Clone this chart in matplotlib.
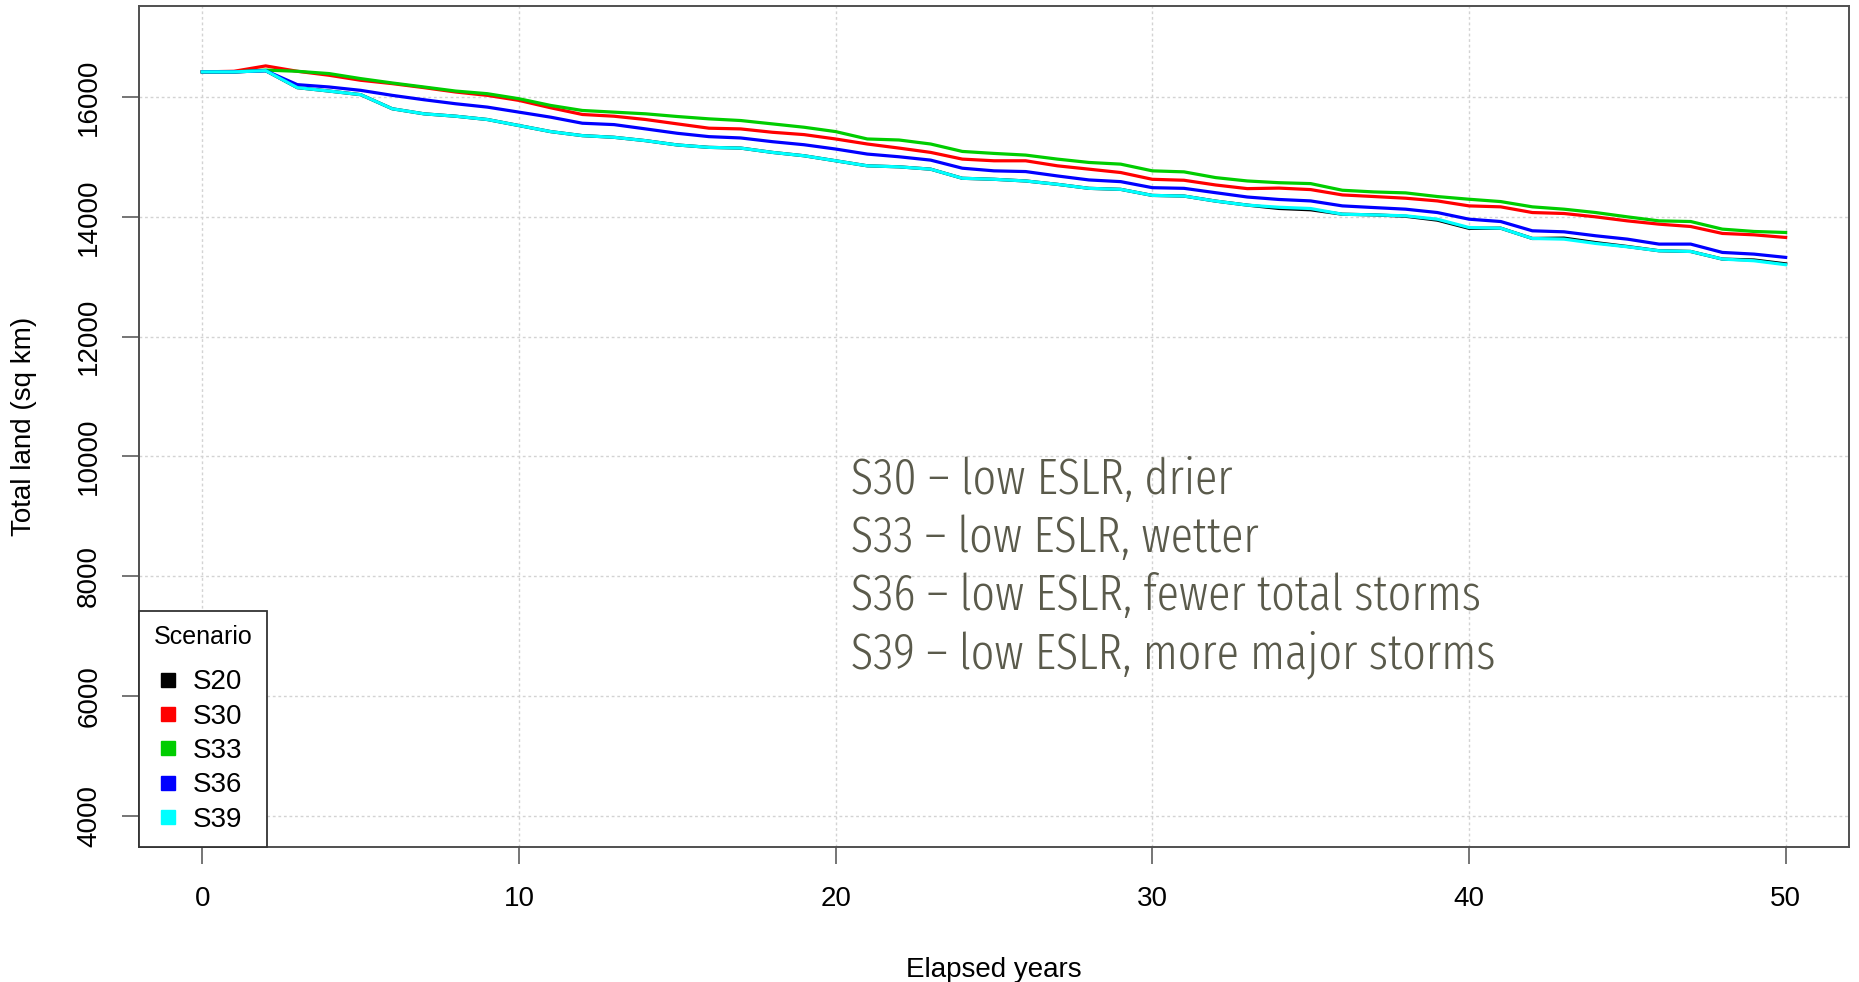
import numpy as np
import matplotlib
matplotlib.use('Agg')
import matplotlib.pyplot as plt
from matplotlib.lines import Line2D

# Values (sq km, one per elapsed year)
years = np.arange(0, 51)

s30 = [16420, 16430, 16520, 16430, 16364, 16280, 16224, 16157, 16084, 16028,
       15944, 15821, 15709, 15680, 15625, 15552, 15480, 15468, 15412, 15373,
       15300, 15216, 15148, 15076, 14964, 14936, 14936, 14852, 14796, 14740,
       14627, 14611, 14532, 14471, 14480, 14455, 14366, 14339, 14311, 14266,
       14183, 14167, 14072, 14056, 14000, 13933, 13878, 13839, 13723, 13700,
       13656]
s33 = [16420, 16420, 16450, 16430, 16392, 16308, 16235, 16168, 16100, 16056,
       15972, 15860, 15776, 15748, 15720, 15675, 15636, 15608, 15552, 15496,
       15423, 15300, 15283, 15216, 15092, 15059, 15031, 14964, 14908, 14880,
       14768, 14751, 14655, 14599, 14570, 14555, 14444, 14416, 14400, 14339,
       14294, 14255, 14167, 14128, 14072, 14000, 13933, 13922, 13795, 13756,
       13739]
s36 = [16420, 16420, 16440, 16207, 16168, 16112, 16028, 15955, 15888, 15832,
       15748, 15664, 15563, 15540, 15468, 15395, 15339, 15317, 15255, 15204,
       15132, 15048, 15003, 14947, 14812, 14768, 14756, 14683, 14616, 14588,
       14487, 14476, 14403, 14331, 14290, 14266, 14183, 14155, 14128, 14072,
       13961, 13922, 13767, 13750, 13684, 13628, 13545, 13545, 13406, 13378,
       13323]
s39 = [16420, 16420, 16440, 16157, 16100, 16040, 15804, 15720, 15680, 15625,
       15524, 15423, 15356, 15328, 15272, 15200, 15160, 15148, 15076, 15020,
       14936, 14852, 14835, 14796, 14644, 14627, 14599, 14543, 14476, 14459,
       14358, 14347, 14263, 14196, 14160, 14139, 14044, 14033, 14017, 13961,
       13822, 13811, 13639, 13628, 13556, 13500, 13434, 13422, 13295, 13267,
       13201]
s20 = [16420, 16420, 16440, 16157, 16100, 16040, 15804, 15720, 15680, 15625,
       15524, 15423, 15356, 15328, 15272, 15200, 15160, 15148, 15076, 15020,
       14936, 14852, 14835, 14796, 14644, 14627, 14599, 14543, 14476, 14459,
       14358, 14347, 14263, 14196, 14140, 14118, 14044, 14033, 14010, 13945,
       13808, 13811, 13639, 13645, 13570, 13505, 13434, 13422, 13295, 13280,
       13215]

scenarios = ['S20', 'S30', 'S33', 'S36', 'S39']
series = [s20, s30, s33, s36, s39]
colors = ['black', 'red', '#00cd00', 'blue', 'cyan']

notes = ['S30 \u2013 low ESLR, drier',
         'S33 \u2013 low ESLR, wetter',
         'S36 \u2013 low ESLR, fewer total storms',
         'S39 \u2013 low ESLR, more major storms']

plt.rcParams['font.family'] = ['Liberation Sans', 'DejaVu Sans']
frame_col = '#505050'

fig = plt.figure(figsize=(18.59, 9.82), dpi=100)
ax = fig.add_axes([139 / 1859, 135 / 982, 1710 / 1859, 841 / 982])

for name, vals, col in zip(scenarios, series, colors):
    ax.plot(years, vals, color=col, lw=2.3, solid_joinstyle='miter')

ax.set_xlim(-2, 52)
ax.set_ylim(3480, 17520)
ax.set_xticks(np.arange(0, 51, 10))
ax.set_yticks(np.arange(4000, 16001, 2000))
ax.grid(True, color='#d3d3d3', linestyle=(0, (2, 2)), lw=1.0)
ax.set_axisbelow(True)

for sp in ax.spines.values():
    sp.set_color(frame_col)
    sp.set_linewidth(1.4)
ax.tick_params(length=12, width=1.1, color=frame_col, labelsize=20)
ax.tick_params(axis='x', pad=16)
ax.tick_params(axis='y', pad=14.5)
for lab in ax.get_yticklabels():
    lab.set_rotation(90)
    lab.set_va('center')

ax.set_xlabel('Elapsed years', fontsize=20)
ax.xaxis.set_label_coords(0.5, -0.1457)
ax.xaxis.label.set_va('center')
ax.set_ylabel('Total land (sq km)', fontsize=20)
ax.yaxis.set_label_coords(-0.067, 0.5)
ax.yaxis.label.set_va('center')

handles = [Line2D([], [], marker='s', ls='none', color=c, markersize=9.4)
           for c in colors]
leg = ax.legend(handles, scenarios, title='Scenario', loc='lower left',
                bbox_to_anchor=(0, 0), borderaxespad=0, fancybox=False,
                framealpha=1, edgecolor='#333333', fontsize=20,
                title_fontsize=18, handlelength=1.055, handletextpad=0.37,
                labelspacing=0.30, borderpad=0.52, alignment='left')
leg.get_frame().set_linewidth(1.3)
leg._legend_box.sep = 14.3  # extra room under the title, like R's legend

for i, txt in enumerate(notes):
    ax.text(0.4164, 0.4364 - i * 0.0693, txt, transform=ax.transAxes,
            fontsize=36, color='#5a5a4b', va='center', ha='left',
            family=['Fira Sans Extra Condensed', 'Liberation Sans'],
            fontweight=300)

fig.savefig('out.png', dpi=100)
